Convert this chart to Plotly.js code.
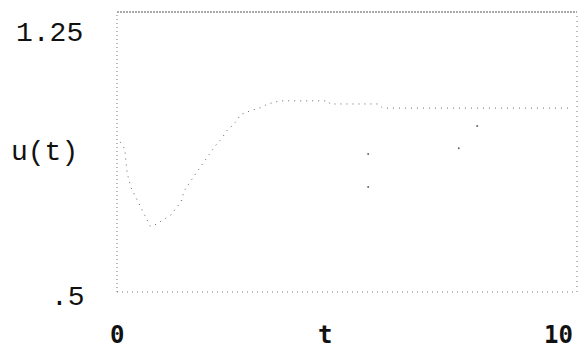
<!DOCTYPE html>
<html>
<head>
<meta charset="utf-8">
<script src="https://cdn.plot.ly/plotly-3.0.1.min.js"></script>
<style>html,body{margin:0;padding:0;background:#fff;}#chart{width:578px;height:353px;}</style>
</head>
<body>
<div id="chart"></div>
<script>
// Response curve u(t)
var tVals = [0.07,0.17,0.20,0.22,0.30,0.72,0.78,1.17,1.39,1.46,1.72,2.15,2.28,2.41,2.50,2.63,2.67,2.89,3.09,3.28,3.54,4.59,4.63,5.67,5.78,9.89];
var uVals = [0.935,0.914,0.871,0.845,0.804,0.691,0.691,0.723,0.761,0.793,0.845,0.926,0.946,0.972,0.981,1.001,1.013,1.025,1.033,1.045,1.054,1.054,1.045,1.045,1.033,1.033];
// stray specks
var tStray = [5.46,5.46,7.43,7.83];
var uStray = [0.900,0.804,0.917,0.981];
// axis labels
var xTickLabels = ["0","10"];
var yTickLabels = ["1.25",".5"];
var xTitle = "t";
var yTitle = "u(t)";

var yMin = 0.5, yMax = 1.3116;

var traces = [
  {x: tVals, y: uVals, mode: 'lines', line: {color: '#666', width: 1, dash: '1px,5px'}, hoverinfo: 'skip'},
  {x: tStray, y: uStray, mode: 'markers', marker: {color: '#666', size: 2}, hoverinfo: 'skip'}
];

var monoY = {family: 'Liberation Mono, Courier New, monospace', size: 28, color: '#111'};
var monoX = {family: 'DejaVu Sans Mono, monospace', size: 24, color: '#111', weight: 'bold'};

var layout = {
  width: 578, height: 353,
  margin: {l: 117, r: 1, t: 12, b: 61},
  paper_bgcolor: '#fff', plot_bgcolor: '#fff',
  showlegend: false,
  xaxis: {range: [0, 10], showgrid: false, zeroline: false, showticklabels: false, ticks: '', showline: false},
  yaxis: {range: [yMin, yMax], showgrid: false, zeroline: false, showticklabels: false, ticks: '', showline: false},
  shapes: [
    {type: 'line', xref: 'paper', yref: 'paper', x0: 0, x1: 1, y0: 1, y1: 1, line: {color: '#555', width: 1, dash: '2px,1px'}},
    {type: 'line', xref: 'paper', yref: 'paper', x0: 0, x1: 0, y0: 0, y1: 1, line: {color: '#777', width: 1, dash: '1px,3px'}},
    {type: 'line', xref: 'paper', yref: 'paper', x0: 1, x1: 1, y0: 0, y1: 1, line: {color: '#777', width: 1, dash: '1px,4px'}},
    {type: 'line', xref: 'paper', yref: 'paper', x0: 0, x1: 1, y0: 0, y1: 0, line: {color: '#777', width: 1, dash: '1px,4px'}}
  ],
  annotations: [
    {text: xTickLabels[0], xref: 'x', yref: 'paper', x: 0, y: -0.154, xanchor: 'center', yanchor: 'middle', showarrow: false, font: monoX},
    {text: xTitle, xref: 'x', yref: 'paper', x: 4.52, y: -0.154, xanchor: 'center', yanchor: 'middle', showarrow: false, font: monoX},
    {text: xTickLabels[1], xref: 'x', yref: 'paper', x: 10, y: -0.154, xanchor: 'right', xshift: -2, yanchor: 'middle', showarrow: false, font: monoX},
    {text: yTickLabels[0], xref: 'paper', yref: 'y', x: -0.07, y: 1.25, xanchor: 'right', yanchor: 'middle', showarrow: false, font: monoY},
    {text: yTitle, xref: 'paper', yref: 'paper', x: -0.08, y: (292-152)/280, xanchor: 'right', yanchor: 'middle', showarrow: false, font: monoY},
    {text: yTickLabels[1], xref: 'paper', yref: 'y', x: -0.065, y: 0.5, xanchor: 'right', yanchor: 'middle', yshift: -5, showarrow: false, font: monoY}
  ]
};

Plotly.newPlot('chart', traces, layout, {staticPlot: true, displayModeBar: false});
</script>
</body>
</html>
